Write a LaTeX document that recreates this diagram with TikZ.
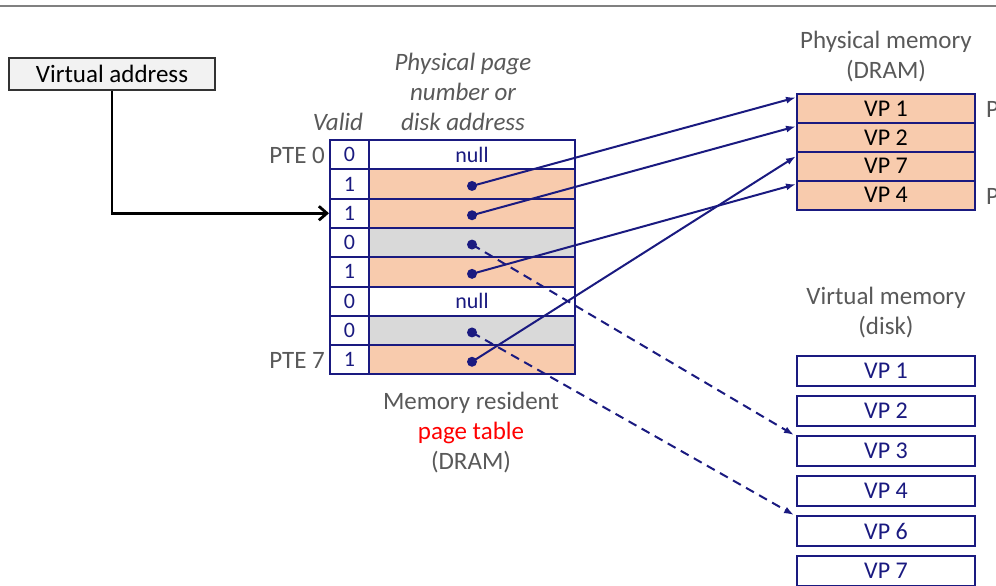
\documentclass[tikz,border=0pt]{standalone}
\usepackage{fontspec}
\setmainfont{Carlito}
\usetikzlibrary{arrows.meta,calc}
\definecolor{navy}{HTML}{1A1A80}
\definecolor{salmon}{HTML}{F8CBAD}
\definecolor{cellgray}{HTML}{D9D9D9}
\definecolor{labelgray}{HTML}{595959}
\definecolor{vabox}{HTML}{F2F2F2}
\tikzset{
  cell/.style={draw=navy, line width=2pt, inner sep=0pt, text=navy,
    minimum height=29.3pt, font=\fontsize{22}{22}\selectfont},
  validcell/.style={cell, minimum width=39pt},
  addrcell/.style={cell, minimum width=206pt},
  memcell/.style={cell, minimum width=178pt, minimum height=28.9pt, fill=salmon, text=black,
    font=\fontsize{24}{24}\selectfont},
  diskcell/.style={cell, minimum width=178pt, minimum height=30pt, fill=white,
    font=\fontsize{24}{24}\selectfont},
  lbl/.style={text=labelgray, font=\fontsize{25}{30}\selectfont, align=center, inner sep=0pt},
  dot/.style={circle, fill=navy, inner sep=0pt, minimum size=10pt},
  ptr/.style={navy, line width=2pt, -{Latex[length=10pt,width=7pt]}},
  dptr/.style={ptr, dash pattern=on 9pt off 6pt},
}
\begin{document}
\begin{tikzpicture}[x=1pt,y=-1pt]
\clip (0,0) rectangle (996,586);
\fill[white] (0,0) rectangle (996,586);
% rule along the top
\draw[gray, line width=1.2pt] (0,6) -- (996,6);

% virtual address
\node[draw=black!80, line width=1.4pt, fill=vabox, minimum width=206pt, minimum height=32pt,
  inner sep=0pt, font=\fontsize{25}{25}\selectfont] (va) at (112,74) {Virtual address};

% page table rows
\foreach \i/\v/\f in {0/0/white,1/1/salmon,2/1/salmon,3/0/cellgray,4/1/salmon,5/0/white,6/0/cellgray,7/1/salmon}{
  \node[validcell, fill=white] (v\i) at (349.5,{140+29.3*(\i+0.5)}) {\v};
  \node[addrcell, fill=\f] (p\i) at (472,{140+29.3*(\i+0.5)}) {};
}
\node[text=navy, font=\fontsize{22}{22}\selectfont] at (p0) {null};
\node[text=navy, font=\fontsize{22}{22}\selectfont] at (p5) {null};
\foreach \i in {1,2,3,4,6,7}{
  \node[dot] (d\i) at ([yshift=-2pt]p\i.center) {};
}

% page table labels
\node[lbl, font=\fontsize{25}{30}\itshape] (validlbl) at (338,122) {Valid};
\node[lbl, font=\fontsize{25}{30}\itshape] (ppnlbl) at (463,92) {Physical page\\number or\\disk address};
\node[lbl, anchor=east] (pte0) at (325,155) {PTE 0};
\node[lbl, anchor=east] (pte7) at (325,360) {PTE 7};
\node[lbl] (ptlbl) at (471,433) {Memory resident\\\textcolor{red}{page table}\\(DRAM)};

% physical memory
\node[lbl] (pmlbl) at (886,57) {Physical memory\\(DRAM)};
\foreach \n/\k in {1/1,2/2,3/7,4/4}{
  \node[memcell] (m\n) at (886,{94+28.9*(\n-0.5)}) {VP \k};
}
\node[lbl, anchor=west] (pp0) at (986,109) {PP 0};
\node[lbl, anchor=west] (pp3) at (986,196) {PP 3};

% virtual memory on disk
\node[lbl] (vmlbl) at (886,313) {Virtual memory\\(disk)};
\foreach \n/\k in {1/1,2/2,3/3,4/4,5/6,6/7}{
  \node[diskcell] (k\n) at (886,{371+40*(\n-1)}) {VP \k};
}

% lookup arrow
\draw[black, line width=2.8pt, -{Straight Barb[length=8pt,width=14pt]}]
  (va.south) |- (v2.west);

% resident pages
\draw[ptr] (d1.center) -- ([yshift=11pt]m1.west);
\draw[ptr] (d2.center) -- ([yshift=11pt]m2.west);
\draw[ptr] (d4.center) -- ([yshift=11pt]m4.west);
\draw[ptr] (d7.center) -- ([yshift=10pt]m3.west);
% pages on disk
\draw[dptr] (d3.center) -- ([xshift=-2pt]k3.north west);
\draw[dptr] (d6.center) -- ([xshift=-2pt]k5.north west);
\end{tikzpicture}
\end{document}
